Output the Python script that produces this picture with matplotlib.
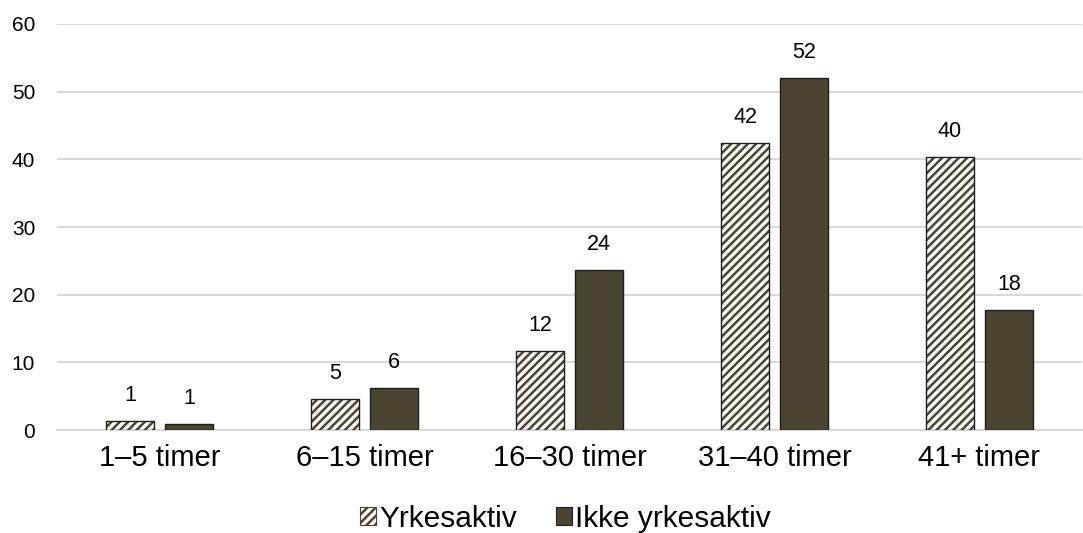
import numpy as np
import matplotlib.pyplot as plt
from matplotlib.patches import Patch

plt.rcParams['font.family'] = ['Liberation Sans', 'DejaVu Sans']
plt.rcParams['hatch.linewidth'] = 1.8

categories = ['1–5 timer', '6–15 timer', '16–30 timer', '31–40 timer', '41+ timer']
yrkesaktiv = [1.3, 4.6, 11.7, 42.4, 40.3]
ikke_yrkesaktiv = [0.9, 6.2, 23.6, 52.0, 17.7]
series_names = ['Yrkesaktiv', 'Ikke yrkesaktiv']

olive = '#4a4530'
x = np.arange(len(categories))
w = 0.235
off = 0.144

fig = plt.figure(figsize=(10.83, 5.33), dpi=100)
ax = fig.add_axes([0.053, 0.193, 0.946, 0.762])

ax.bar(x - off, yrkesaktiv, w, color='white', edgecolor=olive,
       hatch='////', linewidth=0, zorder=3)
# outline drawn separately in black
ax.bar(x - off, yrkesaktiv, w, color='none', edgecolor='#1e1e1e',
       linewidth=1.0, zorder=4)
ax.bar(x + off, ikke_yrkesaktiv, w, color=olive, edgecolor='#1e1e1e',
       linewidth=1.0, zorder=3)

for xi, v in zip(x - off, yrkesaktiv):
    ax.text(xi, v + 2.2, f'{round(v):d}', ha='center', va='bottom', fontsize=15.5)
for xi, v in zip(x + off, ikke_yrkesaktiv):
    ax.text(xi, v + 2.2, f'{round(v):d}', ha='center', va='bottom', fontsize=15.5)

ax.set_xlim(-0.5, 4.5)
ax.set_ylim(0, 60)
ax.set_yticks(range(0, 61, 10))
ax.yaxis.grid(True, color='#d9d9d9', linewidth=1.5, zorder=0)
ax.set_axisbelow(True)
ax.set_xticks(x)
ax.set_xticklabels(categories, fontsize=21)
ax.tick_params(axis='x', length=0, pad=10)
ax.tick_params(axis='y', length=0, labelsize=15, pad=16)
for s in ['top', 'right', 'left']:
    ax.spines[s].set_visible(False)
ax.spines['bottom'].set_color('#d9d9d9')
ax.spines['bottom'].set_linewidth(1.5)

handles = [Patch(facecolor='white', edgecolor=olive, hatch='////', linewidth=0.8),
           Patch(facecolor=olive, edgecolor='#1e1e1e', linewidth=0.8)]
fig.legend(handles, series_names, loc='center', bbox_to_anchor=(0.522, 0.027),
           ncol=2, frameon=False, fontsize=21.5, handlelength=0.55, handleheight=0.55,
           handletextpad=0.1, columnspacing=1.3, borderpad=0)

fig.savefig('out.png', dpi=100)
